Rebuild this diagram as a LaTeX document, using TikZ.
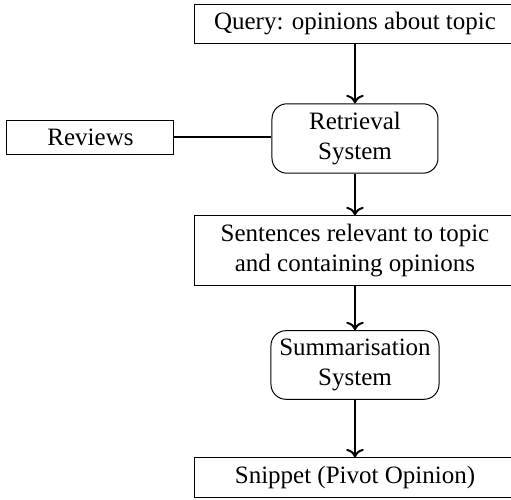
\documentclass[tikz,border=0pt]{standalone}
\usepackage{fontspec}
\setmainfont{Liberation Serif}
\usepackage{tikz}
\usetikzlibrary{arrows.meta,shapes,positioning,calc}
\usepackage{xcolor}

\begin{document}
\begin{tikzpicture}[x=1pt, y=1pt,
    widebox/.style={draw, rectangle, minimum width=136pt, align=center},
    sysbox/.style={draw, rectangle, rounded corners=6pt, minimum width=66.4pt, minimum height=26pt, align=center},
    flow/.style={->, thick}]
    \useasboundingbox (0,0) rectangle (204.4,-200);

    % Input query and sources (wide boxes run past the right edge)
    \node[widebox, minimum height=15.2pt] (query) at (146,-9.6) {\hspace*{-8pt}Query: opinions about topic};
    \node[draw, rectangle, minimum width=66.8pt, minimum height=12.4pt] (reviews) at (36.2,-55) {Reviews};

    % Retrieval step
    \node[sysbox] (retrieval) at (142,-55.4) {Retrieval\\System};

    % Retrieved sentences
    \node[widebox, minimum height=26pt] (sentences) at (146,-100.2) {\hspace*{-8pt}Sentences relevant to topic\\\hspace*{-8pt}and containing opinions};

    % Summarisation step
    \node[sysbox] (summ) at (142,-146) {Summarisation\\System};

    % Output
    \node[widebox, minimum height=14pt] (snippet) at (146,-191) {\hspace*{-8pt}Snippet (Pivot Opinion)};

    % Connectors
    \draw[flow] (query.south -| retrieval) -- (retrieval);
    \draw[thick] (reviews) -- (reviews -| retrieval.west);
    \draw[flow] (retrieval) -- (sentences.north -| retrieval);
    \draw[flow] (sentences.south -| summ) -- (summ);
    \draw[flow] (summ) -- (snippet.north -| summ);
\end{tikzpicture}
\end{document}
